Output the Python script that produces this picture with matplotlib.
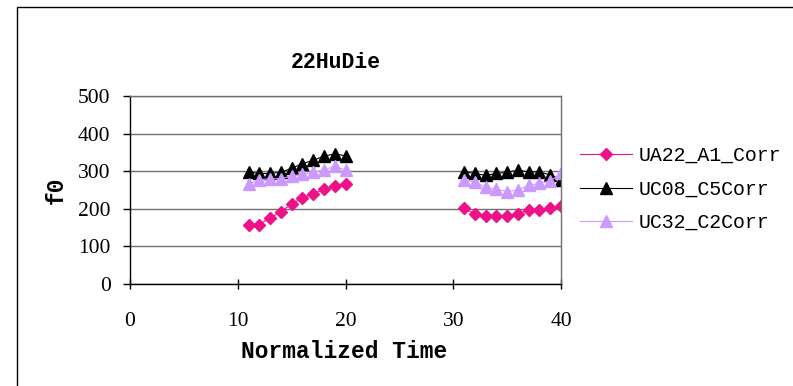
import numpy as np
import matplotlib.pyplot as plt
from matplotlib.patches import Rectangle

# normalized time steps, two recorded stretches with a gap between them
time = list(range(11, 21)) + list(range(31, 41))

ua22_a1 = [158, 158, 176, 192, 213, 229, 240, 252, 260, 267,
           202, 186, 182, 182, 182, 186, 197, 198, 203, 208]
uc08_c5 = [298, 294, 294, 297, 308, 320, 329, 340, 346, 341,
           299, 294, 289, 294, 297, 303, 298, 298, 290, 277]
uc32_c2 = [265, 277, 280, 280, 287, 292, 297, 303, 313, 303,
           277, 271, 257, 252, 246, 250, 262, 268, 274, 294]

labels = ['UA22_A1_Corr', 'UC08_C5Corr', 'UC32_C2Corr']
yticks = [0, 100, 200, 300, 400, 500]
xticks = [0, 10, 20, 30, 40]


def with_gap(xs, ys):
    # break the line between the two stretches
    x = np.array(xs, dtype=float)
    y = np.array(ys, dtype=float)
    cut = np.where(np.diff(x) > 1)[0] + 1
    x = np.insert(x, cut, np.nan)
    y = np.insert(y, cut, np.nan)
    return x, y


fig = plt.figure(figsize=(7.93, 3.86), dpi=100)
fig.patch.set_facecolor('white')
ax = fig.add_axes([130 / 793, 1 - 284 / 386, 431 / 793, 188 / 386])

# outer chart frame
fig.patches.append(Rectangle((17 / 793, -0.1), 1.2, 1 - 7 / 386 + 0.1,
                             transform=fig.transFigure, fill=False,
                             edgecolor='black', linewidth=1.0))

styles = [
    dict(color='#EE1188', marker='D', markersize=6.2),
    dict(color='black', marker='^', markersize=8.5),
    dict(color='#CC99FF', marker='^', markersize=8.5),
]
for vals, lab, st in zip([ua22_a1, uc08_c5, uc32_c2], labels, styles):
    x, y = with_gap(time, vals)
    ax.plot(x, y, linewidth=0.8, color=st['color'], marker=st['marker'],
            markersize=st['markersize'], markerfacecolor=st['color'],
            markeredgecolor=st['color'], label=lab)

ax.set_xlim(0, 40)
ax.set_ylim(0, 500)
ax.set_xticks(xticks)
ax.set_yticks(yticks)
ax.grid(axis='y', color='#707070', linewidth=1.0)
ax.set_axisbelow(True)

for s in ['top', 'right']:
    ax.spines[s].set_color('#707070')
    ax.spines[s].set_linewidth(1.0)
for s in ['left', 'bottom']:
    ax.spines[s].set_color('black')
    ax.spines[s].set_linewidth(1.0)

ax.tick_params(axis='x', direction='inout', length=7, width=1, pad=17)
ax.tick_params(axis='y', direction='out', length=5, width=1, pad=9)
for t in ax.get_xticklabels() + ax.get_yticklabels():
    t.set_fontfamily('Liberation Serif')
    t.set_fontsize(15.5)

fig.text(336 / 793, 1 - 62 / 386, '22HuDie', ha='center', va='center',
         family='Liberation Mono', fontweight='bold', fontsize=15.5)
fig.text(344 / 793, 1 - 352 / 386, 'Normalized Time', ha='center',
         va='center', family='Liberation Mono', fontweight='bold',
         fontsize=16.5)
fig.text(56 / 793, 1 - 190 / 386, 'f0', ha='center', va='center',
         rotation=90, family='Liberation Mono', fontweight='bold',
         fontsize=16.5)

ax.legend(loc='center left', bbox_to_anchor=(580 / 793, 1 - 189 / 386),
          bbox_transform=fig.transFigure, frameon=False,
          prop={'family': 'Liberation Mono', 'size': 14.3},
          handlelength=2.6, handletextpad=0.35, labelspacing=0.72,
          borderaxespad=0, borderpad=0)

fig.savefig('out.png', dpi=100)
